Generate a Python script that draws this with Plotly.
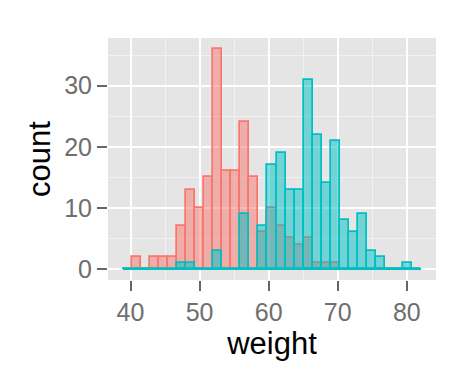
import plotly.graph_objects as go

# Histogram bins (ggplot-style, padded)
bin_start = 38.9
bin_width = 1.308
n_bins = 33

# Counts per bin for each sex
female_counts = [0, 2, 0, 2, 2, 2, 7, 13, 10, 15, 36, 16, 16, 24, 15, 6, 10,
                 7, 5, 4, 5, 1, 1, 1, 0, 0, 0, 0, 0, 0, 0, 0, 0]
male_counts = [0, 0, 0, 0, 0, 0, 1, 1, 0, 0, 3, 0, 0, 9, 0, 7, 17,
               19, 13, 13, 31, 22, 14, 21, 8, 6, 9, 3, 2, 0, 0, 1, 0]

x_ticks = [40, 50, 60, 70, 80]
y_ticks = [0, 10, 20, 30]

centers = [bin_start + bin_width * (i + 0.5) for i in range(n_bins)]
edge_lo = bin_start
edge_hi = bin_start + bin_width * n_bins

RED = "#F8766D"
CYAN = "#00BFC4"
FONT = "Liberation Sans, Arial, sans-serif"

fig = go.Figure()
fig.add_trace(go.Bar(
    x=centers, y=female_counts, width=bin_width, name="F",
    marker=dict(color="rgba(248,118,109,0.5)", line=dict(color=RED, width=1.7)),
))
fig.add_trace(go.Bar(
    x=centers, y=male_counts, width=bin_width, name="M",
    marker=dict(color="rgba(0,191,196,0.5)", line=dict(color=CYAN, width=1.7)),
))
# outline of empty bins along zero, as ggplot draws it
fig.add_trace(go.Scatter(
    x=[edge_lo, edge_hi], y=[0, 0], mode="lines",
    line=dict(color=CYAN, width=2), hoverinfo="skip",
))

span = edge_hi - edge_lo
ymax = max(max(female_counts), max(male_counts))

# the page body adds an 8px offset, so the margins are compensated
fig.update_layout(
    width=474, height=379,
    margin=dict(l=100, r=46, t=30, b=107),
    paper_bgcolor="white", plot_bgcolor="#E5E5E5",
    barmode="overlay", bargap=0, showlegend=False,
    font=dict(family=FONT),
)
fig.update_xaxes(
    automargin=False,
    range=[edge_lo - 0.05 * span, edge_hi + 0.05 * span],
    tickvals=x_ticks, ticktext=[str(v) for v in x_ticks],
    ticks="outside", ticklen=10, tickwidth=2, tickcolor="#666666",
    tickfont=dict(size=25, color="#6E6E6E", family=FONT),
    showgrid=True, gridcolor="white", gridwidth=1.8,
    minor=dict(tickvals=[45, 55, 65, 75], showgrid=True, gridcolor="#F2F2F2", gridwidth=0.8, ticks=""),
    zeroline=False, showline=False,
    title=dict(text="weight", font=dict(size=31, color="black", family=FONT), standoff=2),
)
fig.update_yaxes(
    automargin=False,
    range=[-0.05 * ymax, ymax * 1.05],
    tickvals=y_ticks, ticktext=[str(v) for v in y_ticks],
    ticks="outside", ticklen=10, tickwidth=2, tickcolor="#666666",
    tickfont=dict(size=25, color="#6E6E6E", family=FONT),
    showgrid=True, gridcolor="white", gridwidth=1.8,
    minor=dict(tickvals=[5, 15, 25, 35], showgrid=True, gridcolor="#F2F2F2", gridwidth=0.8, ticks=""),
    zeroline=False, showline=False,
    title=dict(text="count", font=dict(size=31, color="black", family=FONT), standoff=4),
)

fig.write_html("out.html")
